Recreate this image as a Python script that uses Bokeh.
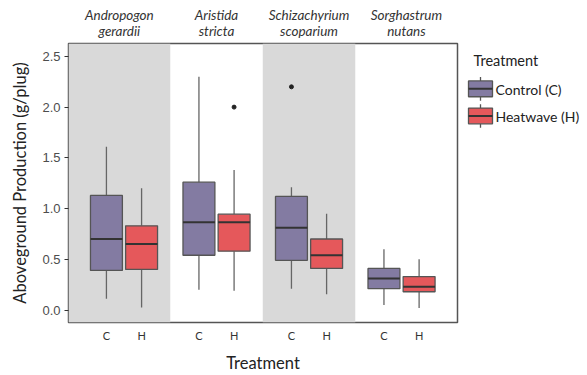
from bokeh.plotting import figure
from bokeh.models import Range1d, FixedTicker, NumeralTickFormatter, BoxAnnotation, LinearAxis
from bokeh.layouts import row
from bokeh.core.properties import value
from bokeh.embed import file_html
from bokeh.resources import INLINE

# ---------------- data ----------------
species_line1 = ["Andropogon", "Aristida", "Schizachyrium", "Sorghastrum"]
species_line2 = ["gerardii", "stricta", "scoparium", "nutans"]
treatments = ["C", "H"]
treatment_names = ["Control (C)", "Heatwave (H)"]

q1_C = [0.39, 0.54, 0.49, 0.21]
med_C = [0.70, 0.865, 0.81, 0.31]
q3_C = [1.13, 1.26, 1.12, 0.41]
lo_C = [0.11, 0.20, 0.21, 0.05]
hi_C = [1.61, 2.30, 1.21, 0.60]

q1_H = [0.40, 0.58, 0.41, 0.18]
med_H = [0.65, 0.865, 0.54, 0.23]
q3_H = [0.83, 0.945, 0.70, 0.33]
lo_H = [0.025, 0.19, 0.155, 0.02]
hi_H = [1.20, 1.38, 0.95, 0.50]

outlier_species = [2, 3]      # 1-based species index
outlier_treat = ["H", "C"]
outlier_val = [2.00, 2.20]

colors = {"C": "#837BA2", "H": "#E5585B"}
offset = {"C": -0.19, "H": 0.19}
box_w = 0.345

FONT = "Lato"
H_TOTAL = 375
FR_TOP, FR_BOT, FR_LEFT, FR_RIGHT = 43, 326, 68, 457
MAIN_W = 460

# ---------------- main figure ----------------
x0r, x1r = 0.4, 4.605
p = figure(width=MAIN_W, height=H_TOTAL, output_backend="svg", toolbar_location=None,
           x_range=Range1d(x0r, x1r), y_range=Range1d(-0.123, 2.627),
           min_border_left=FR_LEFT, min_border_top=FR_TOP,
           min_border_bottom=H_TOTAL - FR_BOT, min_border_right=MAIN_W - FR_RIGHT)
p.xgrid.visible = False
p.ygrid.visible = False
p.outline_line_color = "#555555"
p.outline_line_width = 1.5
p.background_fill_color = "white"
p.border_fill_color = "white"

# facet panels
n = len(species_line1)
edges = [x0r] + [i + 1.5 for i in range(n - 1)] + [x1r]
for i in range(n):
    if i % 2 == 0:
        left = None if i == 0 else edges[i]
        p.add_layout(BoxAnnotation(left=left, right=edges[i + 1], fill_color="#D9D9D9",
                                   fill_alpha=1.0, line_color=None, level="underlay"))

series = {
    "C": (q1_C, med_C, q3_C, lo_C, hi_C),
    "H": (q1_H, med_H, q3_H, lo_H, hi_H),
}
tick_pos = []
tick_lab = {}
for t in treatments:
    q1, med, q3, lo, hi = series[t]
    xs = [i + 1 + offset[t] for i in range(len(q1))]
    for x in xs:
        tick_pos.append(x)
        tick_lab[x] = t
    p.segment(x0=xs, x1=xs, y0=q3, y1=hi, line_color="#666666", line_width=1.3)
    p.segment(x0=xs, x1=xs, y0=q1, y1=lo, line_color="#666666", line_width=1.3)
    p.vbar(x=xs, width=box_w, top=q3, bottom=q1, fill_color=colors[t],
           line_color="#555555", line_width=1.3)
    p.segment(x0=[x - box_w / 2 for x in xs], x1=[x + box_w / 2 for x in xs],
              y0=med, y1=med, line_color="#333333", line_width=2)

ox = [s + offset[t] for s, t in zip(outlier_species, outlier_treat)]
p.scatter(x=ox, y=outlier_val, size=4, color="#222222")

# y axis
p.yaxis.ticker = FixedTicker(ticks=[0.0, 0.5, 1.0, 1.5, 2.0, 2.5])
p.yaxis.formatter = NumeralTickFormatter(format="0.0")
p.yaxis.minor_tick_line_color = None
p.yaxis.major_tick_in = 0
p.yaxis.major_tick_out = 4
p.yaxis.major_tick_line_color = "#333333"
p.yaxis.axis_line_color = None
p.yaxis.major_label_text_font = "Liberation Sans"
p.yaxis.major_label_text_font_size = "13px"
p.yaxis.major_label_text_color = "#4D4D4D"
p.yaxis.major_label_standoff = 4
p.yaxis.axis_label = "Aboveground Production (g/plug)"
p.yaxis.axis_label_text_font = FONT
p.yaxis.axis_label_text_font_style = "normal"
p.yaxis.axis_label_text_font_size = "16.5px"
p.yaxis.axis_label_text_color = "#222222"
p.yaxis.axis_label_standoff = 9

# x axis
p.xaxis.ticker = FixedTicker(ticks=sorted(tick_pos))
p.xaxis.major_label_overrides = tick_lab
p.xaxis.minor_tick_line_color = None
p.xaxis.major_tick_line_color = None
p.xaxis.major_tick_in = 0
p.xaxis.major_tick_out = 0
p.xaxis.axis_line_color = None
p.xaxis.major_label_text_font = FONT
p.xaxis.major_label_text_font_size = "11px"
p.xaxis.major_label_text_color = "#333333"
p.xaxis.major_label_standoff = 6
p.xaxis.axis_label = "Treatment"
p.xaxis.axis_label_text_font = FONT
p.xaxis.axis_label_text_font_style = "normal"
p.xaxis.axis_label_text_font_size = "16.5px"
p.xaxis.axis_label_text_color = "#222222"
p.xaxis.axis_label_standoff = 8

# facet strip labels as a top axis
centers = [(edges[i] + edges[i + 1]) / 2 for i in range(n)]
top_axis = LinearAxis(ticker=FixedTicker(ticks=centers),
                      major_label_overrides={c: f"{a}\n{b}" for c, a, b in
                                             zip(centers, species_line1, species_line2)},
                      axis_line_color=None, major_tick_line_color=None,
                      minor_tick_line_color=None, major_tick_in=0, major_tick_out=0,
                      major_label_standoff=5, major_label_text_font=FONT,
                      major_label_text_font_style="italic",
                      major_label_text_font_size="13.5px",
                      major_label_text_color="#333333",
                      major_label_text_line_height=0.97)
p.add_layout(top_axis, "above")

# ---------------- legend figure ----------------
LW = 587 - MAIN_W
leg = figure(width=LW, height=H_TOTAL, output_backend="svg", toolbar_location=None,
             x_range=Range1d(MAIN_W, 587), y_range=Range1d(FR_BOT, FR_TOP),
             min_border_left=0, min_border_right=0, min_border_top=FR_TOP,
             min_border_bottom=H_TOTAL - FR_BOT)
leg.axis.visible = False
leg.xgrid.visible = False
leg.ygrid.visible = False
leg.outline_line_color = None
leg.background_fill_color = "white"
leg.border_fill_color = "white"

leg.text(x=[473], y=[60], text=["Treatment"], text_font=value(FONT),
         text_font_size="14.5px", text_baseline="middle", text_color="#222222")
key_cy = [89, 116.5]
key_x0, key_x1 = 468, 492
kh = 8
for t, name, cy in zip(treatments, treatment_names, key_cy):
    kx = (key_x0 + key_x1) / 2
    leg.segment(x0=[kx, kx], x1=[kx, kx], y0=[cy - kh - 4, cy + kh], y1=[cy - kh, cy + kh + 4],
                line_color="#555555", line_width=1.3)
    leg.quad(left=[key_x0], right=[key_x1], top=[cy - kh], bottom=[cy + kh],
             fill_color=colors[t], line_color="#555555", line_width=1.3)
    leg.segment(x0=[key_x0], x1=[key_x1], y0=[cy], y1=[cy], line_color="#333333", line_width=2)
    leg.text(x=[495], y=[cy + 1], text=[name], text_font=value(FONT),
             text_font_size="14px", text_baseline="middle", text_color="#222222")

layout = row(p, leg)
open("out.html", "w").write(file_html(layout, INLINE))
